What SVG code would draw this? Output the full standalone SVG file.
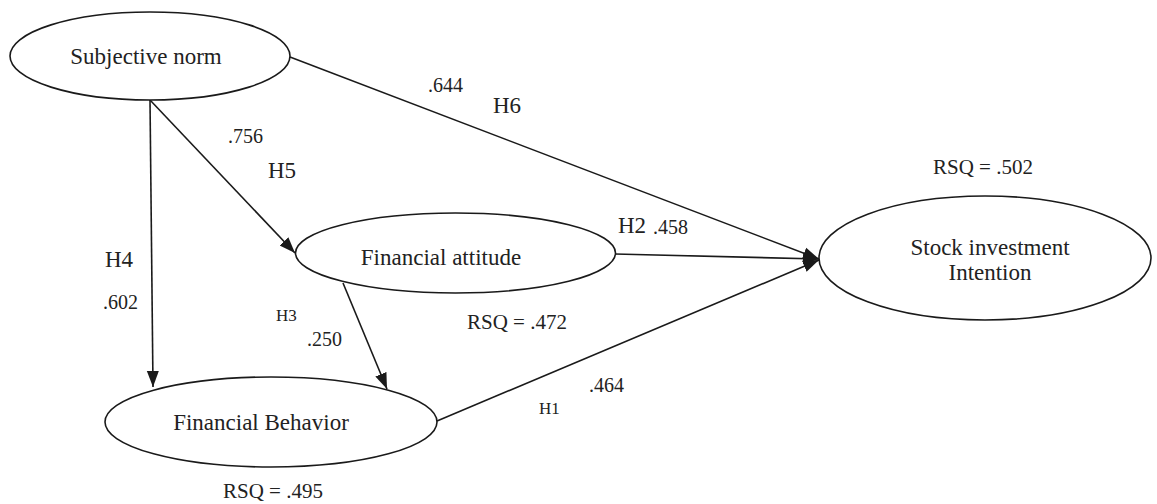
<svg xmlns="http://www.w3.org/2000/svg" width="1157" height="504" viewBox="0 0 1157 504">
<style>
.node ellipse{fill:#fff;stroke:#1a1a1a;stroke-width:1.6}
text{font-family:'Liberation Serif','Times New Roman','DejaVu Serif',serif;fill:#222}
.big{font-size:23px}
.num{font-size:20px}
.sm{font-size:17px}
.rsq{font-size:21px}
.conn line{stroke:#1a1a1a;stroke-width:1.6;fill:none}
</style>
<defs>
<marker id="arr" markerUnits="userSpaceOnUse" markerWidth="17" markerHeight="14" refX="16" refY="7" orient="auto">
<path d="M0,1 L16,7 L0,13 Z" fill="#1a1a1a"/>
</marker>
</defs>
<rect width="1157" height="504" fill="#fff"/>
<g id="connectors" class="conn">
<line x1="290" y1="57" x2="819" y2="259" marker-end="url(#arr)"/>
<line x1="615" y1="254" x2="819" y2="259" marker-end="url(#arr)"/>
<line x1="437" y1="421" x2="819" y2="260" marker-end="url(#arr)"/>
<line x1="150" y1="100" x2="153" y2="387" marker-end="url(#arr)"/>
<line x1="150" y1="100" x2="295" y2="253" marker-end="url(#arr)"/>
<line x1="343" y1="283" x2="387" y2="389" marker-end="url(#arr)"/>
</g>
<g id="subjective-norm" class="node">
<ellipse cx="150" cy="56" rx="140" ry="44"/>
<text class="big" x="146" y="64" text-anchor="middle" font-family="Liberation Serif, serif">Subjective norm</text>
</g>
<g id="financial-attitude" class="node">
<ellipse cx="455.5" cy="253" rx="160" ry="40"/>
<text class="big" x="441" y="265" text-anchor="middle" font-family="Liberation Serif, serif">Financial attitude</text>
</g>
<g id="financial-behavior" class="node">
<ellipse cx="271" cy="422" rx="166" ry="45"/>
<text class="big" x="261" y="430" text-anchor="middle" font-family="Liberation Serif, serif">Financial Behavior</text>
</g>
<g id="stock-investment-intention" class="node">
<ellipse cx="985" cy="258" rx="166" ry="62"/>
<text class="big" x="990" y="255" text-anchor="middle" font-family="Liberation Serif, serif">Stock investment</text>
<text class="big" x="990" y="280" text-anchor="middle" font-family="Liberation Serif, serif">Intention</text>
</g>
<g id="labels" font-family="Liberation Serif, serif">
<text class="num" x="428" y="92">.644</text>
<text class="big" x="493" y="113">H6</text>
<text class="num" x="228" y="143">.756</text>
<text class="big" x="268" y="178">H5</text>
<text class="big" x="105" y="267">H4</text>
<text class="num" x="103" y="309">.602</text>
<text class="big" x="618" y="233">H2</text>
<text class="num" x="653" y="234">.458</text>
<text class="sm" x="276" y="321">H3</text>
<text class="num" x="307" y="346">.250</text>
<text class="rsq" x="467" y="329">RSQ = .472</text>
<text class="num" x="589" y="392">.464</text>
<text class="sm" x="539" y="414">H1</text>
<text class="rsq" x="273" y="498" text-anchor="middle">RSQ = .495</text>
<text class="rsq" x="933" y="174">RSQ = .502</text>
</g>
</svg>
